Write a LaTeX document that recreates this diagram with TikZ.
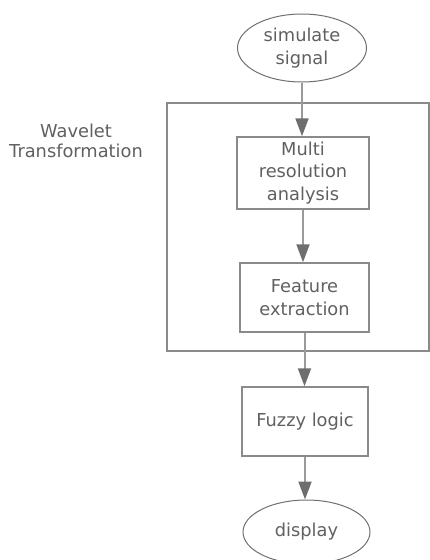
\documentclass[tikz,border=0pt]{standalone}
\usepackage{fontspec}
\setmainfont{DejaVu Sans}
\usetikzlibrary{arrows.meta,shapes.geometric}
\definecolor{txtgray}{HTML}{606060}
\definecolor{boxgray}{HTML}{8A8A8A}
\definecolor{linegray}{HTML}{9A9A9A}
\definecolor{tipgray}{HTML}{6E6E6E}
\definecolor{ellgray}{HTML}{707070}
\tikzset{
  procbox/.style={draw=boxgray, line width=1.5pt, rectangle, inner sep=0pt, align=center, text=txtgray, font=\fontsize{17.8}{22.5}\selectfont},
  termell/.style={draw=ellgray, line width=1pt, ellipse, inner sep=0pt, align=center, text=txtgray, font=\fontsize{17.8}{22.5}\selectfont},
  flowarrow/.style={draw=linegray, line width=2pt, -{Triangle[length=18pt,width=13pt,color=tipgray]}},
  grouprect/.style={draw=boxgray, line width=1.5pt},
  grouplabel/.style={align=center, text=txtgray, font=\fontsize{17.8}{20}\selectfont, inner sep=0pt}
}
\begin{document}
\begin{tikzpicture}[x=1pt,y=-1pt]
\useasboundingbox (0,0) rectangle (430,560);
\draw[grouprect] (167,103) rectangle (429,351);
\node[grouplabel] (wt) at (76,141) {Wavelet\\Transformation};
\node[termell, minimum width=129pt, minimum height=68pt] (sim) at (302,48) {simulate\\signal};
\node[procbox, minimum width=132pt, minimum height=72pt] (mra) at (303,173) {Multi\\resolution\\analysis};
\node[procbox, minimum width=129pt, minimum height=69pt] (fe) at (304.5,297.5) {Feature\\extraction};
\node[procbox, minimum width=126pt, minimum height=69pt] (fl) at (305,421.5) {Fuzzy logic};
\node[termell, minimum width=127pt, minimum height=64pt] (disp) at (306.5,532) {display};
\draw[flowarrow] (sim.south) -- (sim.south |- mra.north);
\draw[flowarrow] (mra.south) -- (mra.south |- fe.north);
\draw[flowarrow] (fe.south) -- (fe.south |- fl.north);
\draw[flowarrow] (fl.south) -- (fl.south |- disp.north);
\end{tikzpicture}
\end{document}
